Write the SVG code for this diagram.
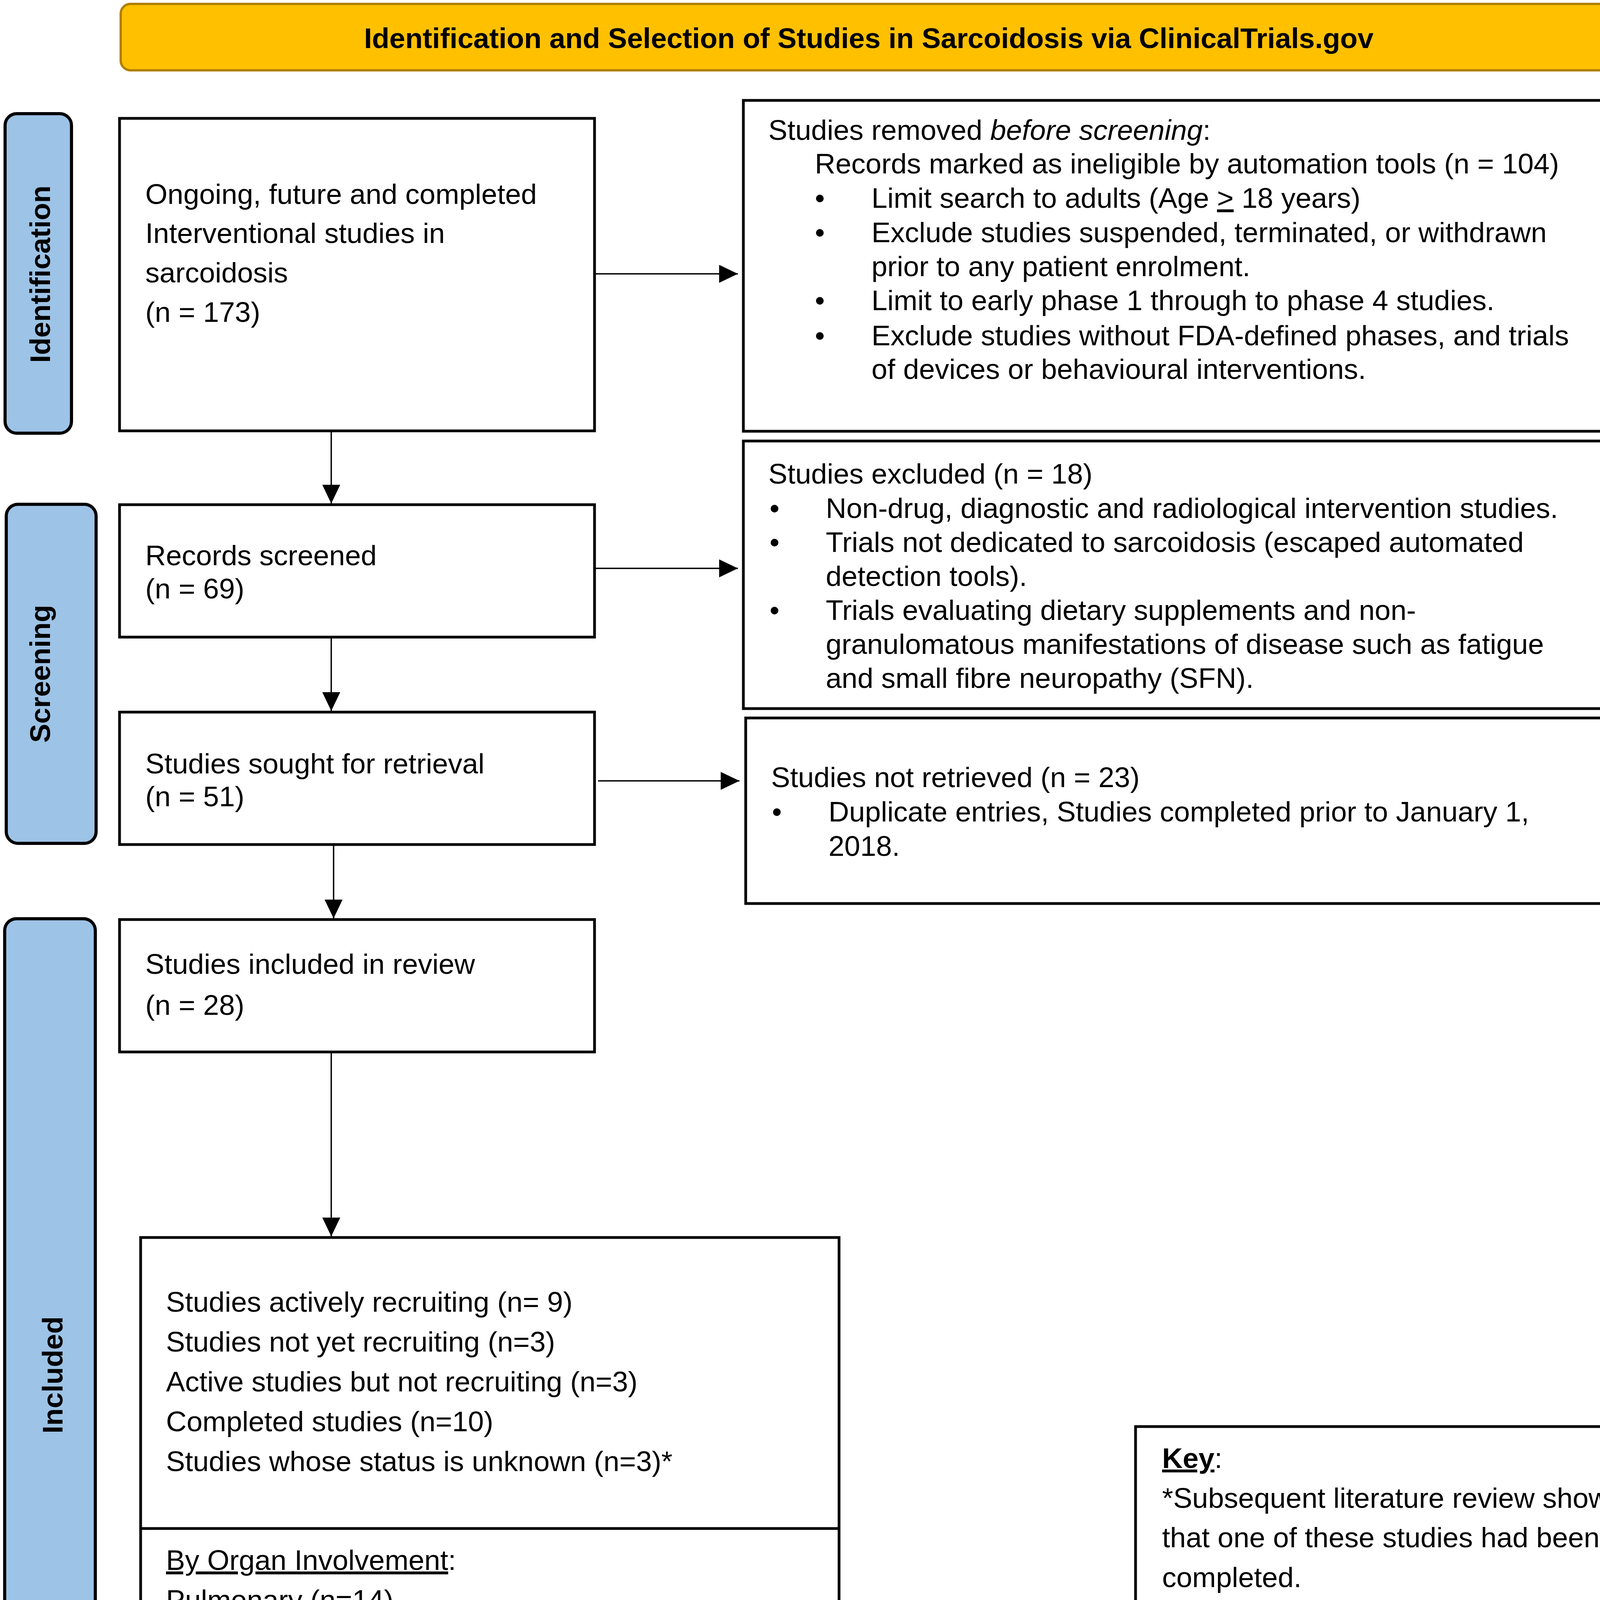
<svg xmlns="http://www.w3.org/2000/svg" width="4328" height="4699" viewBox="0 0 4328 4699">
<style>
  .t { font-family: "Liberation Sans", Arial, sans-serif; font-size: 73px; fill: #000; }
  .b { font-family: "Liberation Sans", Arial, sans-serif; font-size: 73px; font-weight: bold; fill: #000; }
  .box { fill: #fff; stroke: #000; stroke-width: 7; }
  .tab { fill: #9DC3E6; stroke: #000; stroke-width: 8; }
  .conn { stroke: #000; stroke-width: 3.5; fill: none; marker-end: url(#arr); }
</style>
<defs>
  <marker id="arr" markerUnits="userSpaceOnUse" markerWidth="50" markerHeight="46" refX="48" refY="23" orient="auto">
    <path d="M0,0 L48,23 L0,46 Z" fill="#000"/>
  </marker>
  <clipPath id="clip5">
    <rect x="360" y="3913" width="1788" height="721"/>
  </clipPath>
</defs>
<rect width="4328" height="4699" fill="#fff"/>

<g id="title">
  <rect x="309" y="10" width="3830" height="170" rx="25" fill="#FFC000" stroke="#B08000" stroke-width="6"/>
  <text class="b" x="2224" y="123" text-anchor="middle" font-size="74">Identification and Selection of Studies in Sarcoidosis via ClinicalTrials.gov</text>
</g>

<g id="tab-identification">
  <rect class="tab" x="13" y="291" width="170" height="818" rx="30"/>
  <text class="b" transform="translate(128,702) rotate(-90)" text-anchor="middle">Identification</text>
</g>
<g id="tab-screening">
  <rect class="tab" x="16" y="1291" width="230" height="868" rx="30"/>
  <text class="b" transform="translate(128,1725) rotate(-90)" text-anchor="middle">Screening</text>
</g>
<g id="tab-included">
  <rect class="tab" x="12" y="2352" width="232" height="2333" rx="30"/>
  <text class="b" transform="translate(160,3520) rotate(-90)" text-anchor="middle">Included</text>
</g>

<g id="connectors">
  <line class="conn" x1="848" y1="1104" x2="848" y2="1289"/>
  <line class="conn" x1="848" y1="1631" x2="848" y2="1820"/>
  <line class="conn" x1="854" y1="2162" x2="854" y2="2351"/>
  <line class="conn" x1="848" y1="2693" x2="848" y2="3165"/>
  <line class="conn" x1="1522" y1="701" x2="1889" y2="701"/>
  <line class="conn" x1="1522" y1="1455" x2="1889" y2="1455"/>
  <line class="conn" x1="1531" y1="1999" x2="1893" y2="1999"/>
</g>

<g id="node-identified">
  <rect class="box" x="306" y="303" width="1216" height="800"/>
  <text class="t" x="372" y="522">Ongoing, future and completed</text>
  <text class="t" x="372" y="622">Interventional studies in</text>
  <text class="t" x="372" y="723">sarcoidosis</text>
  <text class="t" x="372" y="824">(n = 173)</text>
</g>

<g id="node-screened">
  <rect class="box" x="306" y="1292" width="1216" height="339"/>
  <text class="t" x="372" y="1447">Records screened</text>
  <text class="t" x="372" y="1532">(n = 69)</text>
</g>

<g id="node-sought">
  <rect class="box" x="306" y="1823" width="1216" height="339"/>
  <text class="t" x="372" y="1980">Studies sought for retrieval</text>
  <text class="t" x="372" y="2064">(n = 51)</text>
</g>

<g id="node-included">
  <rect class="box" x="306" y="2354" width="1216" height="339"/>
  <text class="t" x="372" y="2493">Studies included in review</text>
  <text class="t" x="372" y="2598">(n = 28)</text>
</g>

<g id="node-status">
  <rect class="box" x="360" y="3168" width="1788" height="1495"/>
  <line x1="360" y1="3913" x2="2148" y2="3913" stroke="#000" stroke-width="7"/>
  <text class="t" x="425" y="3358">Studies actively recruiting (n= 9)</text>
  <text class="t" x="425" y="3460">Studies not yet recruiting (n=3)</text>
  <text class="t" x="425" y="3562">Active studies but not recruiting (n=3)</text>
  <text class="t" x="425" y="3664">Completed studies (n=10)</text>
  <text class="t" x="425" y="3766">Studies whose status is unknown (n=3)*</text>
  <g clip-path="url(#clip5)">
    <text class="t" x="425" y="4019"><tspan text-decoration="underline">By Organ Involvement</tspan>:</text>
    <text class="t" x="425" y="4121">Pulmonary (n=14)</text>
    <text class="t" x="425" y="4223">SAPH (n=4)</text>
    <text class="t" x="425" y="4325">Cardiac (n=3)</text>
    <text class="t" x="425" y="4427">Cutaneous (n=2)</text>
    <text class="t" x="425" y="4528">Multi-organ (n=2)</text>
    <text class="t" x="425" y="4628">Others (Liver, Ca/Vit D homeostasis, CNS) (n=3)</text>
  </g>
</g>

<g id="node-removed">
  <rect class="box" x="1903" y="257" width="2242" height="847"/>
  <text class="t" x="1967" y="358">Studies removed <tspan font-style="italic">before screening</tspan>:</text>
  <text class="t" x="2086" y="444">Records marked as ineligible by automation tools (n = 104)</text>
  <text class="t" x="2086" y="532">•</text>
  <text class="t" x="2231" y="532">Limit search to adults (Age <tspan text-decoration="underline">&gt;</tspan> 18 years)</text>
  <text class="t" x="2086" y="620">•</text>
  <text class="t" x="2231" y="620">Exclude studies suspended, terminated, or withdrawn</text>
  <text class="t" x="2231" y="707">prior to any patient enrolment.</text>
  <text class="t" x="2086" y="794">•</text>
  <text class="t" x="2231" y="794">Limit to early phase 1 through to phase 4 studies.</text>
  <text class="t" x="2086" y="884">•</text>
  <text class="t" x="2231" y="884">Exclude studies without FDA-defined phases, and trials</text>
  <text class="t" x="2231" y="970">of devices or behavioural interventions.</text>
</g>

<g id="node-excluded">
  <rect class="box" x="1903" y="1129" width="2242" height="685"/>
  <text class="t" x="1967" y="1238">Studies excluded (n = 18)</text>
  <text class="t" x="1970" y="1326">•</text>
  <text class="t" x="2114" y="1326">Non-drug, diagnostic and radiological intervention studies.</text>
  <text class="t" x="1970" y="1413">•</text>
  <text class="t" x="2114" y="1413">Trials not dedicated to sarcoidosis (escaped automated</text>
  <text class="t" x="2114" y="1500">detection tools).</text>
  <text class="t" x="1970" y="1587">•</text>
  <text class="t" x="2114" y="1587">Trials evaluating dietary supplements and non-</text>
  <text class="t" x="2114" y="1674">granulomatous manifestations of disease such as fatigue</text>
  <text class="t" x="2114" y="1761">and small fibre neuropathy (SFN).</text>
</g>

<g id="node-not-retrieved">
  <rect class="box" x="1909" y="1838" width="2236" height="475"/>
  <text class="t" x="1974" y="2015">Studies not retrieved (n = 23)</text>
  <text class="t" x="1976" y="2103">•</text>
  <text class="t" x="2121" y="2103">Duplicate entries, Studies completed prior to January 1,</text>
  <text class="t" x="2121" y="2191">2018.</text>
</g>

<g id="node-key">
  <rect class="box" x="2907" y="3652" width="1409" height="1014"/>
  <text class="t" x="2975" y="3758"><tspan font-weight="bold" text-decoration="underline">Key</tspan>:</text>
  <text class="t" x="2975" y="3860">*Subsequent literature review showed</text>
  <text class="t" x="2975" y="3961">that one of these studies had been</text>
  <text class="t" x="2975" y="4063">completed.</text>
  <text class="t" x="2975" y="4164">SAPH = Sarcoidosis associated</text>
  <text class="t" x="2975" y="4266">pulmonary hypertension.</text>
  <text class="t" x="2975" y="4367">CNS = Central nervous system</text>
  <text class="t" x="2975" y="4469">Ca/Vit D = calcium and vitamin D</text>
  <text class="t" x="2975" y="4570">FDA = Food and Drug Administration</text>
</g>
</svg>
